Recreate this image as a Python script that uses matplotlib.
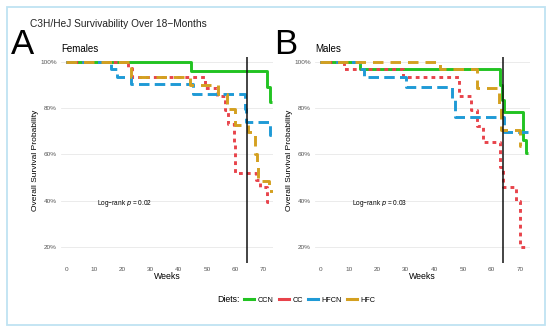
import matplotlib.pyplot as plt
from matplotlib.lines import Line2D
from matplotlib.patches import Rectangle
from matplotlib.ticker import PercentFormatter

plt.rcParams['font.family'] = ['Liberation Sans', 'DejaVu Sans']

DIETS = ['CCN', 'CC', 'HFCN', 'HFC']
COLORS = {'CCN': '#22c322', 'CC': '#e8434b', 'HFCN': '#1f9ad6', 'HFC': '#d4a020'}
DASHES = {'CCN': None, 'CC': (1.3, 1.4), 'HFCN': (3.6, 1.8), 'HFC': (3.6, 2.4)}

# Kaplan-Meier steps: weeks / survival (%)
fem_ccn_t = [0, 44.5, 71.2, 72.5, 73]
fem_ccn_s = [100, 95.8, 89.2, 82.6, 82.6]
fem_cc_t = [0, 22, 23.5, 49.5, 53.5, 56.5, 57.5, 59.5, 60, 67.5, 69, 71.5, 72.5]
fem_cc_s = [100, 97.3, 93.2, 88.5, 85.2, 79, 73, 65, 52, 48.7, 45.8, 39.3, 39.3]
fem_hfcn_t = [0, 16, 18, 23, 45, 63.5, 64, 72.5, 73.5]
fem_hfcn_s = [100, 96.7, 93.3, 90.2, 86.2, 79.7, 73.8, 68.3, 68.3]
fem_hfc_t = [0, 23, 44, 54, 57, 60, 64.5, 67, 67.7, 68.2, 72, 73.5]
fem_hfc_s = [100, 93.5, 89.8, 85.8, 79.5, 72.6, 69.5, 60, 55, 48.5, 44.3, 44.3]

mal_ccn_t = [0, 14, 63, 63.7, 64.3, 71, 72, 72.8]
mal_ccn_s = [100, 96.6, 90, 83.5, 78.4, 66, 60.4, 60.4]
mal_cc_t = [0, 8.5, 29, 48.6, 53, 55, 57, 63, 64, 68.5, 70, 72.8]
mal_cc_s = [100, 96.6, 93.2, 85, 79, 72, 65.4, 54.5, 45.8, 40, 19.7, 19.7]
mal_hfcn_t = [0, 14, 15.5, 30, 46.3, 47.4, 64.5, 72.8]
mal_hfcn_s = [100, 96.6, 93.2, 89, 83.5, 76.2, 69.7, 69.7]
mal_hfc_t = [0, 42, 55, 62.7, 63.5, 70, 70.3]
mal_hfc_s = [100, 96.6, 88.5, 80.5, 70.4, 63.5, 63.5]

females = {'CCN': (fem_ccn_t, fem_ccn_s), 'CC': (fem_cc_t, fem_cc_s),
           'HFCN': (fem_hfcn_t, fem_hfcn_s), 'HFC': (fem_hfc_t, fem_hfc_s)}
males = {'CCN': (mal_ccn_t, mal_ccn_s), 'CC': (mal_cc_t, mal_cc_s),
         'HFCN': (mal_hfcn_t, mal_hfcn_s), 'HFC': (mal_hfc_t, mal_hfc_s)}

CUTOFF_WEEK = 64.2
P_VALUES = ['0.02', '0.03']

W, H = 550, 330
fig = plt.figure(figsize=(W / 100, H / 100), dpi=100)

# light blue frame around the whole figure
fig.patches.append(Rectangle((7 / W, 5 / H), 538 / W, 318 / H, transform=fig.transFigure,
                             fill=False, edgecolor='#bfe3f2', linewidth=1.3))

fig.text(30 / W, 1 - 24 / H, 'C3H/HeJ Survivability Over 18\u2212Months', fontsize=7.3,
         va='center', color='#222222')


def panel(left, right, data, letter, sex, pval, letter_x):
    ax = fig.add_axes([left / W, 1 - 263 / H, (right - left) / W, (263 - 57) / H])
    for d in DIETS:
        t, s = data[d]
        line, = ax.step(t, s, where='post', color=COLORS[d], linewidth=2.1,
                        solid_capstyle='butt')
        if DASHES[d]:
            line.set_dashes(DASHES[d])
            line.set_dash_capstyle('butt')
    ax.axvline(CUTOFF_WEEK, color='#111111', linewidth=1.1)
    ax.set_xlim(-1.8, 73.5)
    ax.set_ylim(13, 102)
    ax.set_xticks(range(0, 71, 10))
    ax.set_yticks([20, 40, 60, 80, 100])
    ax.yaxis.set_major_formatter(PercentFormatter(decimals=0))
    ax.tick_params(length=0, labelsize=4.6, labelcolor='#555555', pad=3)
    ax.grid(axis='y', color='#e8e8e8', linewidth=0.6)
    ax.set_axisbelow(True)
    for sp in ax.spines.values():
        sp.set_visible(False)
    ax.set_xlabel('Weeks', fontsize=6.3, labelpad=0)
    ax.set_ylabel('Overall Survival Probability', fontsize=6, labelpad=1)
    ax.text(11, 38, 'Log\u2212rank $p$ = ' + pval, fontsize=4.7)
    fig.text(letter_x / W, 1 - 45 / H, letter, fontsize=25, va='center')
    fig.text(left / W, 1 - 49 / H, sex, fontsize=7, va='center')
    return ax


panel(61, 273, females, 'A', 'Females', P_VALUES[0], 11)
panel(315, 530, males, 'B', 'Males', P_VALUES[1], 274)

handles = [Line2D([], [], color=COLORS[d], linewidth=2.2) for d in DIETS]
fig.text(217 / W, 1 - 300 / H, 'Diets:', fontsize=6.3, va='center')
fig.legend(handles, DIETS, loc='center left', bbox_to_anchor=(244 / W, 1 - 300 / H),
           ncol=4, frameon=False, fontsize=5.2, handlelength=1.4, handletextpad=0.5,
           columnspacing=0.7, borderaxespad=0, borderpad=0)

fig.savefig('out.png', dpi=100)
